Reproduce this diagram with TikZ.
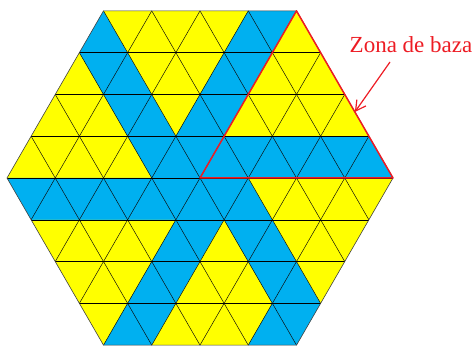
\documentclass[tikz,border=0pt]{standalone}
\usepackage{fontspec}
\setmainfont{Liberation Serif}
\usetikzlibrary{arrows.meta,calc}
\definecolor{B}{RGB}{0,176,240}
\definecolor{Y}{RGB}{255,255,0}
\definecolor{zred}{RGB}{237,28,36}
\begin{document}
\begin{tikzpicture}[x=1pt,y=1pt,
  gridline/.style={black, line width=0.45pt},
  outline/.style={black!75, line width=0.6pt, line join=round},
  zone/.style={zred, line width=1.5pt, line join=round},
  callout/.style={zred, line width=1.2pt, -{Straight Barb[length=10pt,width=11pt]}},
  lbl/.style={anchor=base, inner sep=0pt, text=zred, font=\fontsize{23}{27}\selectfont}]
\def\s{48.25}
\def\h{41.786}
\pgfmathsetmacro\R{4*\s}
\useasboundingbox (-200,-169) rectangle (276,178);
\foreach \r/\cols in {
 0/{B,Y,Y,Y,Y,Y,B,B,Y},
 1/{Y,B,B,Y,Y,Y,B,B,Y,Y,Y},
 2/{Y,Y,Y,B,B,Y,B,B,Y,Y,Y,Y,Y},
 3/{Y,Y,Y,Y,Y,B,B,B,B,B,B,B,B,B,B},
 4/{B,B,B,B,B,B,B,B,B,B,Y,Y,Y,Y,Y},
 5/{Y,Y,Y,Y,Y,B,B,Y,B,B,Y,Y,Y},
 6/{Y,Y,Y,B,B,Y,Y,Y,B,B,Y},
 7/{Y,B,B,Y,Y,Y,Y,B,B}}{
  \pgfmathsetmacro\yL{\r<4 ? (3-\r)*\h : (4-\r)*\h}
  \pgfmathsetmacro\yS{\r<4 ? (4-\r)*\h : (3-\r)*\h}
  \pgfmathsetmacro\xO{\r<4 ? -(5+\r)*\s/2 : -(12-\r)*\s/2}
  \foreach \c [count=\k from 0] in \cols {
    \pgfmathsetmacro\xa{\xO + \k*\s/2}
    \pgfmathsetmacro\xb{\xO + (\k+1)*\s/2}
    \pgfmathsetmacro\xc{\xO + (\k+2)*\s/2}
    \pgfmathsetmacro\ya{mod(\k,2)==1 ? \yS : \yL}
    \pgfmathsetmacro\yb{mod(\k,2)==1 ? \yL : \yS}
    \fill[\c] (\xa,\ya) -- (\xc,\ya) -- (\xb,\yb) -- cycle;
  }
}
\foreach \ang in {0,60,120} {
  \begin{scope}[rotate=\ang]
    \foreach \j in {-3,...,3} {
      \pgfmathsetmacro\hw{(8-abs(\j))*\s/2}
      \draw[gridline] (-\hw,\j*\h) -- (\hw,\j*\h);
    }
  \end{scope}
}
\draw[outline] (0:\R) -- (60:\R) -- (120:\R) -- (180:\R) -- (240:\R) -- (300:\R) -- cycle;
\coordinate (O) at (0,0);
\coordinate (P) at (60:\R);
\coordinate (Q) at (0:\R);
\draw[zone] (O) -- (P) -- (Q) -- cycle;
\node[lbl] (label) at (211,125.5) {Zona de baza};
\coordinate (start) at (190,116);
\coordinate (tip) at ($(P)!0.605!(Q)$);
\draw[callout] (start) -- (tip);
\end{tikzpicture}
\end{document}
